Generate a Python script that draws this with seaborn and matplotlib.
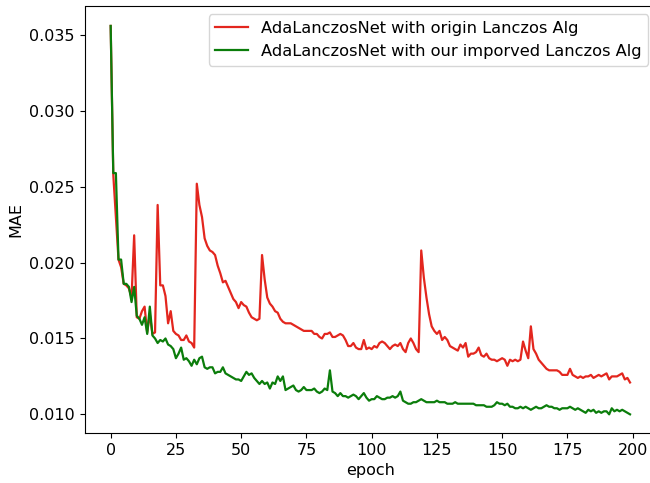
import matplotlib
matplotlib.use("Agg")
import matplotlib.pyplot as plt
import seaborn as sns
import pandas as pd

# values, one per epoch (0..199)
origin_mae = [
    0.0356, 0.0258, 0.0230, 0.0202, 0.0197, 0.0186, 0.0185, 0.0183, 0.0177, 0.0218,
    0.0164, 0.0163, 0.0168, 0.0171, 0.0154, 0.0166, 0.0153, 0.0154, 0.0238, 0.0185,
    0.0185, 0.0178, 0.0160, 0.0168, 0.0155, 0.0153, 0.0152, 0.0149, 0.0149, 0.0152,
    0.0148, 0.0147, 0.0144, 0.0252, 0.0238, 0.0230, 0.0216, 0.0211, 0.0208, 0.0207,
    0.0205, 0.0198, 0.0193, 0.0187, 0.0188, 0.0184, 0.0180, 0.0176, 0.0174, 0.0170,
    0.0174, 0.0172, 0.0171, 0.0167, 0.0164, 0.0163, 0.0162, 0.0163, 0.0205, 0.0189,
    0.0177, 0.0173, 0.0171, 0.0168, 0.0167, 0.0163, 0.0161, 0.0160, 0.0160, 0.0160,
    0.0159, 0.0158, 0.0157, 0.0156, 0.0155, 0.0155, 0.0155, 0.0155, 0.0153, 0.0153,
    0.0151, 0.0150, 0.0153, 0.0153, 0.0154, 0.0151, 0.0151, 0.0152, 0.0153, 0.0152,
    0.0149, 0.0145, 0.0145, 0.0147, 0.0144, 0.0143, 0.0143, 0.0149, 0.0143, 0.0144,
    0.0143, 0.0145, 0.0144, 0.0147, 0.0148, 0.0147, 0.0145, 0.0143, 0.0145, 0.0146,
    0.0145, 0.0147, 0.0143, 0.0141, 0.0147, 0.0150, 0.0147, 0.0143, 0.0141, 0.0208,
    0.0190, 0.0177, 0.0166, 0.0158, 0.0155, 0.0153, 0.0155, 0.0149, 0.0151, 0.0149,
    0.0145, 0.0144, 0.0143, 0.0142, 0.0146, 0.0144, 0.0147, 0.0138, 0.0140, 0.0140,
    0.0141, 0.0144, 0.0139, 0.0138, 0.0140, 0.0137, 0.0136, 0.0136, 0.0135, 0.0136,
    0.0137, 0.0136, 0.0132, 0.0136, 0.0135, 0.0136, 0.0135, 0.0136, 0.0148, 0.0142,
    0.0137, 0.0158, 0.0143, 0.0140, 0.0136, 0.0134, 0.0132, 0.0130, 0.0129, 0.0129,
    0.0129, 0.0129, 0.0128, 0.0126, 0.0126, 0.0126, 0.0130, 0.0126, 0.0125, 0.0124,
    0.0125, 0.0124, 0.0125, 0.0125, 0.0126, 0.0124, 0.0125, 0.0126, 0.0125, 0.0126,
    0.0127, 0.0123, 0.0125, 0.0125, 0.0125, 0.0126, 0.0127, 0.0123, 0.0124, 0.0121,
]

improved_mae = [
    0.0356, 0.0259, 0.0259, 0.0202, 0.0202, 0.0186, 0.0186, 0.0184, 0.0174, 0.0184,
    0.0165, 0.0163, 0.0159, 0.0164, 0.0153, 0.0171, 0.0152, 0.0150, 0.0147, 0.0149,
    0.0148, 0.0150, 0.0146, 0.0145, 0.0143, 0.0137, 0.0140, 0.0144, 0.0136, 0.0137,
    0.0135, 0.0132, 0.0136, 0.0133, 0.0137, 0.0138, 0.0131, 0.0130, 0.0131, 0.0131,
    0.0127, 0.0128, 0.0128, 0.0131, 0.0127, 0.0126, 0.0125, 0.0124, 0.0123, 0.0123,
    0.0122, 0.0125, 0.0128, 0.0126, 0.0127, 0.0124, 0.0122, 0.0120, 0.0122, 0.0120,
    0.0121, 0.0117, 0.0121, 0.0120, 0.0125, 0.0122, 0.0125, 0.0116, 0.0117, 0.0118,
    0.0119, 0.0116, 0.0115, 0.0116, 0.0118, 0.0116, 0.0116, 0.0116, 0.0117, 0.0115,
    0.0114, 0.0115, 0.0117, 0.0116, 0.0129, 0.0115, 0.0114, 0.0112, 0.0114, 0.0112,
    0.0112, 0.0111, 0.0112, 0.0113, 0.0112, 0.0110, 0.0112, 0.0114, 0.0111, 0.0109,
    0.0110, 0.0110, 0.0112, 0.0111, 0.0110, 0.0110, 0.0111, 0.0111, 0.0112, 0.0111,
    0.0112, 0.0115, 0.0109, 0.0108, 0.0107, 0.0107, 0.0108, 0.0108, 0.0109, 0.0110,
    0.0109, 0.0108, 0.0108, 0.0108, 0.0108, 0.0109, 0.0108, 0.0108, 0.0108, 0.0107,
    0.0107, 0.0107, 0.0108, 0.0107, 0.0107, 0.0107, 0.0107, 0.0107, 0.0107, 0.0107,
    0.0106, 0.0106, 0.0106, 0.0106, 0.0105, 0.0105, 0.0105, 0.0106, 0.0108, 0.0107,
    0.0107, 0.0106, 0.0107, 0.0105, 0.0105, 0.0104, 0.0104, 0.0105, 0.0104, 0.0105,
    0.0104, 0.0103, 0.0104, 0.0105, 0.0104, 0.0104, 0.0105, 0.0106, 0.0105, 0.0105,
    0.0104, 0.0104, 0.0103, 0.0104, 0.0104, 0.0104, 0.0105, 0.0104, 0.0103, 0.0104,
    0.0103, 0.0102, 0.0101, 0.0103, 0.0102, 0.0103, 0.0101, 0.0102, 0.0101, 0.0102,
    0.0102, 0.0100, 0.0104, 0.0102, 0.0103, 0.0102, 0.0103, 0.0102, 0.0101, 0.0100,
]

labels = ["AdaLanczosNet with origin Lanczos Alg",
          "AdaLanczosNet with our imporved Lanczos Alg"]
colors = ["#e3261e", "#0b7d0b"]

epochs = list(range(len(origin_mae)))
df = pd.concat([
    pd.DataFrame({"epoch": epochs, "MAE": origin_mae, "model": labels[0]}),
    pd.DataFrame({"epoch": epochs, "MAE": improved_mae, "model": labels[1]}),
])

fig = plt.figure(figsize=(6.5, 4.83), dpi=100)
ax = fig.add_axes([84.7 / 650, 50 / 483, 571.3 / 650, 426.5 / 483])

sns.lineplot(data=df, x="epoch", y="MAE", hue="model", palette=colors,
             linewidth=1.6, ax=ax)

ax.set_xlim(-9.95, 208.95)
ax.set_ylim(0.00877, 0.03688)
ax.set_xticks([0, 25, 50, 75, 100, 125, 150, 175, 200])
ax.set_yticks([0.010, 0.015, 0.020, 0.025, 0.030, 0.035])
ax.yaxis.set_major_formatter(matplotlib.ticker.FormatStrFormatter("%.3f"))
ax.tick_params(labelsize=11.5)
ax.set_xlabel("epoch", fontsize=11.5)
ax.set_ylabel("MAE", fontsize=11.5)

# the axes run past the right edge of the picture, so pin the legend to it
ax.legend(title=None, loc="upper right", bbox_to_anchor=(563.3 / 571.3, 1 - 8 / 426.5),
          borderaxespad=0, fontsize=11.7)

plt.savefig("out.png", dpi=100)
